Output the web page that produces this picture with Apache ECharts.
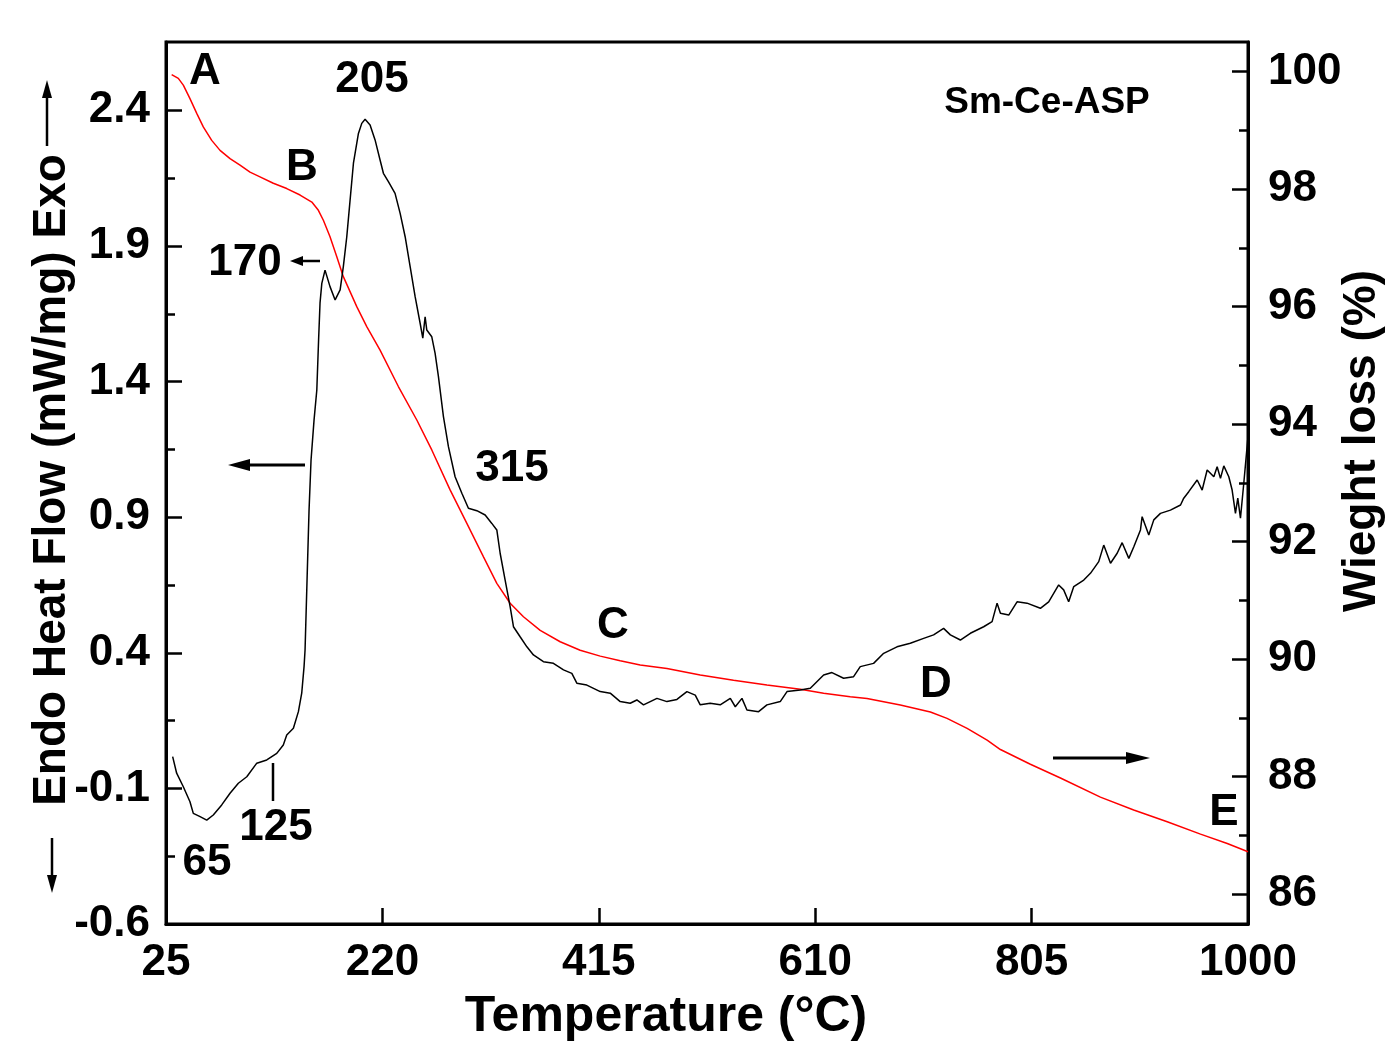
<!DOCTYPE html>
<html><head><meta charset="utf-8">
<script src="https://cdn.jsdelivr.net/npm/echarts@6/dist/echarts.min.js"></script>
<style>html,body{margin:0;padding:0;background:#fff}#c{width:1387px;height:1052px}</style>
</head><body><div id="c"></div>
<script>
// DSC curve (left axis): temperature (°C) and heat flow (mW/mg)
const dscTemp = [31.0,34.6,40.6,46.6,49.6,55.7,61.7,67.6,75.2,82.7,90.2,97.8,106.8,115.8,124.8,130.7,133.8,139.8,144.3,147.3,149.4,150.3,152.1,153.9,155.7,158.4,160.9,162.5,163.8,165.4,168.3,172.8,177.4,181.9,184.8,187.9,190.9,193.9,198.4,201.4,204.4,208.9,213.4,217.9,220.9,225.4,231.4,236.0,240.5,245.0,249.5,254.0,256.4,258.5,260.0,264.5,267.5,270.5,275.0,279.5,285.5,291.6,297.5,305.1,312.6,318.6,323.1,326.1,330.6,335.1,338.1,344.1,350.2,356.1,365.1,374.1,383.2,390.7,395.2,404.2,416.3,425.3,434.3,443.3,449.3,455.3,467.4,476.4,485.4,494.4,501.9,506.4,515.4,524.4,533.5,538.0,544.0,548.5,559.0,566.5,578.5,584.6,596.6,605.6,617.6,625.1,635.6,644.6,650.6,662.6,671.7,683.7,695.7,707.7,716.7,725.7,731.8,740.8,749.8,761.8,769.4,773.9,776.9,784.4,791.9,800.9,812.9,820.4,829.4,833.9,838.4,843.0,852.0,858.0,865.5,870.0,876.1,882.1,886.6,892.6,897.1,903.1,904.6,910.6,915.1,921.1,930.1,939.2,942.1,946.6,954.2,958.7,963.2,969.2,972.2,975.2,978.2,982.7,985.7,988.7,990.8,993.2,996.2,1000];
const dscHeat = [0.017,-0.044,-0.094,-0.149,-0.192,-0.204,-0.217,-0.198,-0.161,-0.118,-0.081,-0.057,-0.007,0.005,0.029,0.060,0.097,0.122,0.183,0.251,0.349,0.410,0.668,0.926,1.111,1.258,1.369,1.553,1.690,1.762,1.811,1.750,1.701,1.738,1.824,1.934,2.070,2.205,2.315,2.352,2.367,2.346,2.291,2.217,2.168,2.137,2.094,2.020,1.934,1.824,1.713,1.615,1.560,1.639,1.590,1.565,1.504,1.418,1.271,1.160,1.049,0.988,0.933,0.924,0.908,0.877,0.853,0.767,0.668,0.570,0.496,0.459,0.422,0.392,0.367,0.361,0.337,0.324,0.288,0.281,0.257,0.251,0.220,0.214,0.226,0.208,0.232,0.220,0.228,0.257,0.244,0.208,0.214,0.208,0.232,0.201,0.232,0.189,0.183,0.208,0.220,0.257,0.263,0.269,0.318,0.327,0.306,0.312,0.349,0.361,0.398,0.422,0.435,0.453,0.466,0.490,0.466,0.447,0.472,0.496,0.515,0.583,0.546,0.539,0.588,0.583,0.564,0.588,0.650,0.632,0.588,0.644,0.668,0.693,0.736,0.797,0.730,0.767,0.806,0.748,0.791,0.853,0.902,0.834,0.890,0.914,0.926,0.945,0.970,0.994,1.037,1.000,1.074,1.049,1.086,1.043,1.089,1.049,1.000,0.914,0.970,0.896,1.025,1.197];
// TG curve (right axis): temperature (°C) and weight (%)
const tgTemp = [30.1,36.1,40.6,46.6,52.7,58.6,66.2,73.7,82.7,91.7,100.7,109.7,121.7,133.8,145.8,156.4,162.3,166.8,172.8,178.9,184.8,196.9,205.9,217.9,234.4,251.0,264.5,281.0,296.1,311.1,323.1,335.1,347.1,362.2,380.2,398.2,416.3,434.3,452.3,476.4,506.4,536.4,566.5,596.6,617.6,641.6,656.7,686.7,713.8,728.8,746.9,764.9,776.9,803.9,831.0,867.0,897.0,927.2,957.2,981.3,1000];
const tgWeight = [99.95,99.885,99.77,99.54,99.29,99.06,98.83,98.66,98.52,98.41,98.29,98.21,98.10,98.01,97.90,97.78,97.64,97.47,97.19,96.85,96.51,96.00,95.66,95.26,94.64,94.07,93.56,92.88,92.31,91.74,91.29,90.95,90.72,90.49,90.295,90.15,90.05,89.97,89.90,89.84,89.73,89.64,89.56,89.485,89.42,89.36,89.33,89.22,89.10,88.99,88.82,88.62,88.46,88.21,87.975,87.65,87.43,87.23,87.02,86.86,86.72];
// tick labels
const xTicks = [25,220,415,610,805,1000];
const leftTicks = [-0.6,-0.1,0.4,0.9,1.4,1.9,2.4];
const leftMinor = [-0.35,0.15,0.65,1.15,1.65,2.15];
const rightTicks = [86,88,90,92,94,96,98,100];
const rightMinor = [87,89,91,93,95,97,99];

const FONT = '"Liberation Sans", Arial, Helvetica, sans-serif';
const lblStyle = {color:'#000', fontFamily:FONT, fontWeight:'bold', fontSize:44};

function zip(a,b){return a.map((v,i)=>[v,b[i]]);}

function arrow(x1,y1,x2,y2,hl,hw,lw){
  const dx=x2-x1, dy=y2-y1, L=Math.hypot(dx,dy), ux=dx/L, uy=dy/L;
  const bx=x2-ux*hl, by=y2-uy*hl, px=-uy*hw, py=ux*hw;
  return [
    {type:'line', shape:{x1:x1,y1:y1,x2:bx,y2:by}, style:{stroke:'#000', lineWidth:lw}, z:10},
    {type:'polygon', shape:{points:[[x2,y2],[bx+px,by+py],[bx-px,by-py]]}, style:{fill:'#000'}, z:10}
  ];
}
function txt(t,x,y,size,rot){
  return {type:'text', x:x, y:y, rotation:rot||0, z:10,
    style:{text:t, fill:'#000', font:'bold '+size+'px '+FONT, textAlign:'center', textVerticalAlign:'middle'}};
}

const chart = echarts.init(document.getElementById('c'), null, {renderer:'canvas'});
const yBase = (min,max,pos,ticks,isMain,fmt,margin)=>({
  type:'value', min:min, max:max, position:pos,
  axisLine:{show:isMain, onZero:false, lineStyle:{color:'#000', width:3}},
  axisTick:{show:true, inside:true, length:isMain?16:9, customValues:ticks, lineStyle:{color:'#000', width:2.5}},
  axisLabel:isMain?Object.assign({show:true, customValues:ticks, margin:margin, formatter:fmt}, lblStyle):{show:false},
  splitLine:{show:false}
});

chart.setOption({
  animation:false,
  backgroundColor:'#fff',
  grid:{left:166, top:42, width:1082, height:882, show:true, borderColor:'#000', borderWidth:3, outerBoundsMode:'none', containLabel:false},
  xAxis:[{
    type:'value', min:25, max:1000, position:'bottom',
    axisLine:{show:true, onZero:false, lineStyle:{color:'#000', width:3}},
    axisTick:{show:true, inside:true, length:16, customValues:xTicks, lineStyle:{color:'#000', width:2.5}},
    axisLabel:Object.assign({show:true, customValues:xTicks, margin:17, formatter:v=>String(Math.round(v))}, lblStyle),
    splitLine:{show:false}
  }],
  yAxis:[
    yBase(-0.6, 2.652, 'left', leftTicks, true, v=>v.toFixed(1), 16),
    yBase(-0.6, 2.652, 'left', leftMinor, false),
    yBase(85.49, 100.505, 'right', rightTicks, true, v=>String(Math.round(v)), 20),
    yBase(85.49, 100.505, 'right', rightMinor, false)
  ],
  series:[
    {type:'line', name:'DSC', xAxisIndex:0, yAxisIndex:0, data:zip(dscTemp,dscHeat), showSymbol:false, symbol:'none',
     lineStyle:{color:'#000', width:1.5}, z:3},
    {type:'line', name:'TG', xAxisIndex:0, yAxisIndex:2, data:zip(tgTemp,tgWeight), showSymbol:false, symbol:'none',
     lineStyle:{color:'#ff0000', width:1.5}, z:2}
  ],
  graphic:[].concat(
    [txt('A',205,72,44), txt('B',302,168,44), txt('205',372,80,44), txt('170',245,263,44),
     txt('315',512,469,44), txt('C',613,626,44), txt('D',936,685,44), txt('E',1224,813,44),
     txt('65',207,863,44), txt('125',276,828,44), txt('Sm-Ce-ASP',1047,103,37),
     txt('Temperature (°C)',666,1017,50),
     txt('Endo Heat Flow (mW/mg) Exo',52,480,46,Math.PI/2),
     txt('Wieght loss (%)',1362,441,46,Math.PI/2)],
    [{type:'line', shape:{x1:273,y1:763,x2:273,y2:801}, style:{stroke:'#000', lineWidth:2.5}, z:10}],
    arrow(320,261,290,261,13,5,2.5),
    arrow(305,465,228,465,22,6,3),
    arrow(1053,758,1150,758,24,6,3),
    arrow(47,146,47,80,18,5,2.5),
    arrow(52,838,52,893,18,5,2.5)
  )
});
</script></body></html>
